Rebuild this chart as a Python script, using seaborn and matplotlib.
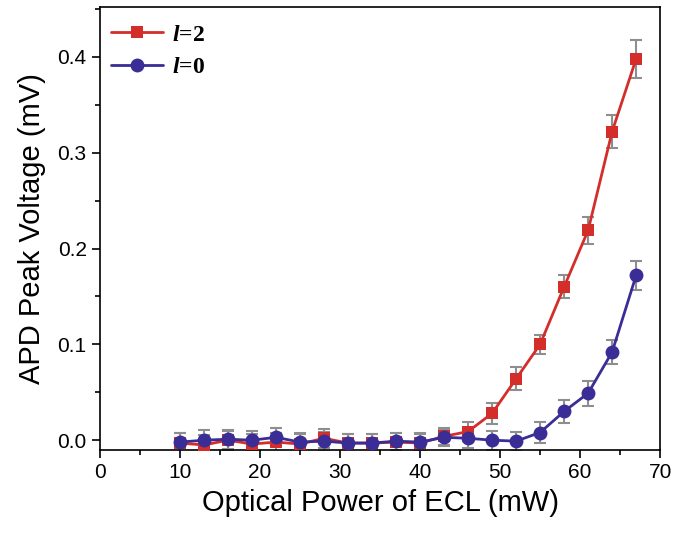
import matplotlib
matplotlib.use('Agg')
import matplotlib.pyplot as plt
from matplotlib.ticker import MultipleLocator
import numpy as np
import pandas as pd
import seaborn as sns

# Optical power of the ECL (mW)
power = [10, 13, 16, 19, 22, 25, 28, 31, 34, 37, 40, 43, 46, 49, 52, 55, 58, 61, 64, 67]

# APD peak voltage (mV), l=2
v_l2 = [-0.003, -0.005, 0.000, -0.004, -0.002, -0.004, 0.002, -0.003, -0.003, -0.002,
        -0.003, 0.004, 0.009, 0.028, 0.064, 0.100, 0.160, 0.219, 0.322, 0.398]
err_l2 = [0.010, 0.010, 0.010, 0.010, 0.010, 0.010, 0.010, 0.009, 0.009, 0.009,
          0.009, 0.009, 0.010, 0.011, 0.012, 0.010, 0.012, 0.014, 0.017, 0.020]

# APD peak voltage (mV), l=0
v_l0 = [-0.002, 0.000, 0.001, 0.000, 0.003, -0.002, -0.001, -0.003, -0.003, -0.001,
        -0.002, 0.003, 0.002, 0.000, -0.001, 0.008, 0.030, 0.049, 0.092, 0.172]
err_l0 = [0.010, 0.011, 0.010, 0.010, 0.010, 0.010, 0.010, 0.009, 0.009, 0.009,
          0.009, 0.009, 0.010, 0.010, 0.010, 0.011, 0.012, 0.013, 0.013, 0.015]

RED = '#d42e2a'
BLUE = '#3a2d96'
GRAY = '#8e8e8e'

sns.set_theme(style='ticks')
plt.rcParams['font.family'] = ['Liberation Sans', 'DejaVu Sans']
plt.rcParams['mathtext.fontset'] = 'custom'
plt.rcParams['mathtext.it'] = 'Liberation Serif:italic:bold'
plt.rcParams['mathtext.rm'] = 'Liberation Serif:bold'
plt.rcParams['text.color'] = 'black'
plt.rcParams['axes.labelcolor'] = 'black'

df = pd.DataFrame({
    'power': power * 2,
    'voltage': v_l2 + v_l0,
    'err': err_l2 + err_l0,
    'series': ['l2'] * len(power) + ['l0'] * len(power),
})

fig, ax = plt.subplots(figsize=(6.75, 5.38), dpi=100)
fig.subplots_adjust(left=0.148, right=0.978, top=0.987, bottom=0.164)

styles = {
    'l2': dict(color=RED, marker='s', ms=8.5, label=r'$l$=2'),
    'l0': dict(color=BLUE, marker='o', ms=10, label=r'$l$=0'),
}

for key in ['l2', 'l0']:
    sub = df[df['series'] == key]
    st = styles[key]
    ax.errorbar(sub['power'], sub['voltage'], yerr=sub['err'], fmt='none',
                ecolor=GRAY, elinewidth=1.5, capsize=4.5, capthick=1.5, zorder=2)
    sns.lineplot(data=sub, x='power', y='voltage', ax=ax, color=st['color'],
                 marker=st['marker'], markersize=st['ms'], markeredgewidth=0,
                 linewidth=2, label=st['label'], zorder=3)

ax.set_xlim(0, 70)
ax.set_ylim(-0.01, 0.452)
ax.xaxis.set_major_locator(MultipleLocator(10))
ax.xaxis.set_minor_locator(MultipleLocator(5))
ax.yaxis.set_major_locator(MultipleLocator(0.1))
ax.yaxis.set_minor_locator(MultipleLocator(0.05))
ax.tick_params(which='major', direction='out', length=6, width=1.2,
               labelsize=15, colors='black')
ax.tick_params(which='minor', direction='out', length=3.5, width=1.2, colors='black')
for sp in ax.spines.values():
    sp.set_linewidth(1.2)
    sp.set_color('black')

ax.set_xlabel('Optical Power of ECL (mW)', fontsize=21, labelpad=5)
ax.set_ylabel('APD Peak Voltage (mV)', fontsize=21, labelpad=8)

leg = ax.legend(loc='upper left', bbox_to_anchor=(0.005, 0.98), frameon=False,
                handlelength=2.2, handletextpad=0.4, borderaxespad=0.0,
                borderpad=0.35, labelspacing=0.45,
                prop={'family': 'Liberation Serif', 'weight': 'bold', 'size': 17})

fig.savefig('out.png', dpi=100)
